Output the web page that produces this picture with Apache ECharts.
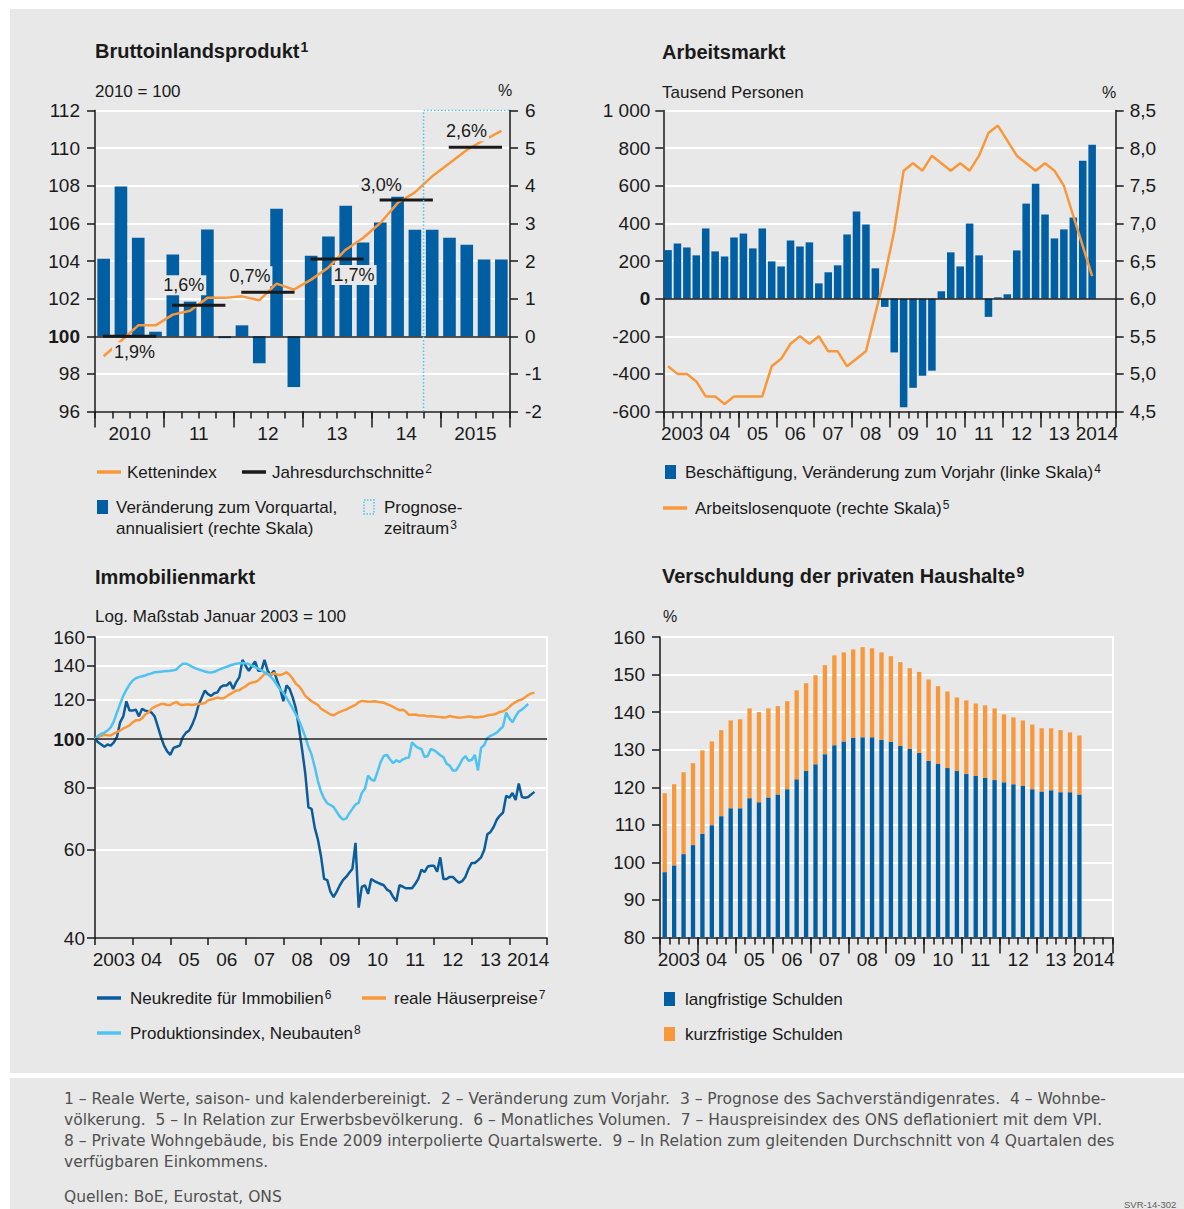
<!DOCTYPE html>
<html><head><meta charset="utf-8">
<script src="https://cdn.jsdelivr.net/npm/echarts@6/dist/echarts.min.js"></script>
<style>html,body{margin:0;padding:0;background:#fff}#c{width:1184px;height:1209px}</style>
</head><body><div id="c"></div>
<script>
// ---------------- DATA ----------------
const quarterNames = ['Q1', 'Q2', 'Q3', 'Q4'];

// Bruttoinlandsprodukt
const gdpYears = ['2010', '2011', '2012', '2013', '2014', '2015'];
const gdpYearLabels = ['2010', '11', '12', '13', '14', '2015'];
const gdpQuarters = gdpYears.flatMap(y => quarterNames.map(q => y + ' ' + q));
const gdpIndex = [98.94, 99.75, 100.58, 100.58, 101.15, 101.36, 102.04, 102.04, 102.12, 101.91, 102.8, 102.48,
  103.01, 103.66, 104.6, 105.22, 106.02, 107.08, 107.65, 108.5, 109.2, 109.9, 110.43, 110.92];
const gdpChange = [2.06, 3.98, 2.62, 0.12, 2.17, 0.92, 2.84, -0.05, 0.29, -0.72, 3.39, -1.35,
  2.14, 2.65, 3.47, 2.49, 3.02, 3.71, 2.83, 2.83, 2.62, 2.43, 2.04, 2.04];
const gdpAnnualAvg = [100, 101.65, 102.34, 104.11, 107.24, 110.04];
const gdpAnnualGrowth = ['1,9%', '1,6%', '0,7%', '1,7%', '3,0%', '2,6%'];
const gdpForecastStart = '2014 Q4';

// Arbeitsmarkt
const labourYears = ['2003', '2004', '2005', '2006', '2007', '2008', '2009', '2010', '2011', '2012', '2013', '2014'];
const labourYearLabels = ['2003', '04', '05', '06', '07', '08', '09', '10', '11', '12', '13', '2014'];
const labourQuarters = labourYears.flatMap(y => quarterNames.map(q => y + ' ' + q));
const employmentChange = [258, 293, 272, 230, 373, 251, 224, 325, 346, 267, 373, 198, 171, 309, 277, 299,
  81, 140, 177, 341, 463, 394, 161, -44, -286, -578, -474, -410, -383, 39, 246, 171,
  399, 230, -97, 7, 23, 256, 505, 611, 447, 320, 368, 431, 733, 818];
const unemploymentRate = [5.1, 5.0, 5.0, 4.9, 4.7, 4.7, 4.6, 4.7, 4.7, 4.7, 4.7, 5.1, 5.2, 5.4, 5.5, 5.4,
  5.5, 5.3, 5.3, 5.1, 5.2, 5.3, 5.8, 6.3, 6.9, 7.7, 7.8, 7.7, 7.9, 7.8, 7.7, 7.8,
  7.7, 7.9, 8.2, 8.3, 8.1, 7.9, 7.8, 7.7, 7.8, 7.7, 7.5, 7.1, 6.7, 6.3];

// Immobilienmarkt (monthly from January 2003)
const housingYearLabels = ['2003', '04', '05', '06', '07', '08', '09', '10', '11', '12', '13', '2014'];
const housingFirstYear = 2003;
const newMortgages = [100, 98.5, 97.5, 96.5, 97.5, 97, 98.5, 101, 108, 111,
  119, 114, 114, 114.5, 111, 115, 114, 113.5, 113, 111,
  106, 101, 97, 94.5, 93, 96, 96.5, 97, 101, 103,
  104, 107, 111, 117, 121, 125, 123, 122, 123.5, 124,
  127, 128, 128, 130, 126, 130, 133, 144, 140, 137,
  140, 143, 137, 137, 144, 137, 134, 137, 131, 126,
  119, 128, 126, 121, 115, 105, 95, 85.3, 73, 72.5,
  66.5, 63, 58.3, 52.5, 52.2, 49.5, 48.3, 49.5, 51, 52.2,
  53, 54, 55, 62, 46, 50.6, 51, 49, 52.5, 52,
  51.6, 51.3, 51, 50, 49.6, 48.3, 47.4, 51, 50.7, 50.3,
  50.3, 50.3, 51.3, 52.5, 54.8, 54.2, 55.6, 55.8, 55.8, 54.3,
  58, 52.5, 52.5, 53, 53, 52.2, 51.6, 52, 53, 55,
  56.5, 56.5, 57.2, 58, 60, 64.5, 65.2, 66.7, 69, 70.3,
  71.3, 77, 76.3, 78, 75.5, 81.5, 76.6, 76.3, 76.6, 77.5, 78.4];
const realHousePrices = [100, 101, 101.5, 102, 101.8, 101.7, 102.5, 103.3, 104, 105,
  105.7, 106.5, 108, 109, 109, 110, 112, 113, 115, 116,
  116.8, 117.5, 117.5, 117, 117, 118, 118.6, 117.2, 117, 117.3,
  117.2, 117, 117.3, 117.5, 117.7, 118, 119.5, 120, 120.4, 121,
  120.7, 120.7, 121.8, 123, 124, 125, 125.2, 126.5, 127.5, 129,
  129.7, 130, 131, 132.8, 135, 135, 134.5, 135.4, 134.7, 134.2,
  135, 136, 134.5, 132, 129, 127.5, 125, 122, 120.5, 119,
  118, 117, 115, 114, 113, 112, 111.5, 112.5, 113.3, 114,
  114.5, 115.5, 116.3, 117, 118.5, 119.2, 119, 118.7, 118.8, 119,
  118.8, 118.5, 118.2, 117.5, 116.8, 116, 115, 114.2, 114.5, 113.5,
  111.8, 111.8, 112, 111.6, 111.5, 111.4, 111, 111.2, 111, 110.8,
  110.7, 110.4, 110.6, 111.2, 110.8, 110.6, 110.3, 110.5, 110.7, 111,
  110.8, 110.4, 110.6, 110.8, 111, 111.5, 111.8, 112, 112.5, 113.3,
  113.7, 114.5, 116, 117.5, 118.5, 119.5, 120, 121.2, 122.5, 123.5, 123.7];
const constructionOutput = [100, 101.5, 102.5, 103, 104, 105.5, 108.5, 113, 117.5, 122,
  125.5, 128.5, 131, 132.3, 133, 133.5, 134, 134.8, 135.3, 136,
  136.2, 136.4, 136.6, 136.8, 137, 137.3, 137.8, 140, 141.5, 141.5,
  140.5, 139.5, 138.5, 137.8, 137.2, 136.5, 136, 135.8, 136.3, 137.2,
  138, 138.8, 139.5, 140.3, 141, 141.5, 141.8, 142, 141.7, 141.3,
  140.2, 139.3, 138.3, 137.2, 136, 135, 133.2, 131, 128.3, 125.5,
  124, 121, 118, 115, 112, 109, 105, 101, 96.5, 93,
  88, 82.5, 78.5, 76, 74.4, 73.8, 73.2, 71.5, 70, 69,
  69.3, 71, 72.5, 74, 74.5, 78, 79.5, 84.5, 83, 82.5,
  86, 90, 92.5, 93, 91, 89.5, 90.7, 90, 91, 91.6,
  91.8, 98.5, 97, 96, 95.5, 92, 92.5, 95.5, 95, 94,
  92.8, 92, 89.3, 88.5, 86.5, 86.5, 88.5, 91, 92.5, 90.5,
  90.8, 93, 86.5, 96, 97.3, 100.5, 101.5, 102.2, 103, 104.5,
  106, 113, 110, 108, 111, 113.5, 114.5, 116, 117.5];
const housingTicks = [40, 60, 80, 100, 120, 140, 160];

// Verschuldung der privaten Haushalte
const debtLongTerm = [97.4, 99.2, 102.2, 104.6, 107.6, 109.9, 112.3, 114.4, 114.4, 117.1, 116, 117.3,
  118.1, 119.5, 122.1, 124.3, 126.1, 128.8, 131.2, 132.2, 133.1, 133.3, 133.3, 132.6,
  132.1, 131, 130.2, 129.1, 127, 126.2, 125.1, 124.3, 123.5, 123, 122.5, 121.9,
  121.3, 120.8, 120.3, 119.5, 118.9, 119.2, 118.7, 118.7, 118.1];
const debtShortTerm = [21.0, 21.6, 21.8, 21.8, 22.2, 22.3, 22.9, 23.4, 23.7, 23.9, 24.0, 23.7,
  23.5, 23.4, 23.7, 23.4, 23.7, 23.7, 23.9, 23.7, 23.6, 24.0, 23.7, 23.3,
  22.8, 22.3, 21.5, 21.6, 21.7, 20.7, 20.4, 19.6, 19.6, 19.3, 19.3, 19.1,
  18.1, 17.8, 17.5, 17.2, 16.8, 16.5, 16.5, 15.9, 15.7];

// ---------------- STYLE ----------------
const FONT = '"Liberation Sans", Arial, sans-serif';
const FOOTFONT = '"DejaVu Sans", "Liberation Sans", sans-serif';
const INK = '#1a1a1a';
const BG = '#e8e8e8';
const BLUE = '#005ea2';
const ORANGE = '#f8983a';
const LIGHTBLUE = '#4ec3f2';
const DARKBLUE = '#0b5c9b';
const AX = { color: INK, width: 1.5 };
const LBL = 19;
// label offsets of the annual average labels relative to segment centre [dx, dy]
const avgLabelOffsets = [[5, 16], [-15, -20], [-18, -16], [17, 16], [-25, -15], [-9, -16]];

function boldAt(target, fmt) {
  return {
    formatter: v => (Math.abs(v - target) < 1e-6 ? '{b|' + fmt(v) + '}' : fmt(v)),
    rich: { b: { fontWeight: 'bold', fontSize: LBL, fontFamily: FONT, color: INK } }
  };
}
function quarterAxis(grid, data) {
  return { type: 'category', gridIndex: grid, data, position: 'bottom', boundaryGap: true,
    axisLine: { show: true, onZero: false, lineStyle: AX },
    axisTick: { show: true, interval: 0, length: 7, lineStyle: AX },
    axisLabel: { show: false }, splitLine: { show: false } };
}
function yearAxis(grid, data, tickLen, showLine) {
  return { type: 'category', gridIndex: grid, data, position: 'bottom', boundaryGap: true,
    axisLine: { show: !!showLine, onZero: false, lineStyle: AX },
    axisTick: { show: true, interval: 0, length: tickLen, lineStyle: AX },
    axisLabel: { show: true, interval: 0, fontSize: LBL, color: INK, fontFamily: FONT, margin: 12,
      hideOverlap: false },
    splitLine: { show: false } };
}
function valAxis(grid, pos, min, max, interval, margin, extra) {
  return Object.assign({ type: 'value', gridIndex: grid, position: pos, min, max, interval,
    axisLine: { show: true, onZero: false, lineStyle: AX },
    axisTick: { show: true, length: 8, lineStyle: AX },
    axisLabel: { show: true, fontSize: LBL, color: INK, fontFamily: FONT, margin,
      showMinLabel: true, showMaxLabel: true },
    splitLine: { show: false } }, extra || {});
}
const whiteSplit = { show: true, lineStyle: { color: '#ffffff', width: 2 } };
function whiteRightAxis(grid) {
  return { type: 'value', gridIndex: grid, position: 'right', min: 0, max: 1,
    axisLine: { show: true, onZero: false, lineStyle: { color: '#ffffff', width: 2 } },
    axisTick: { show: false }, axisLabel: { show: false }, splitLine: { show: false } };
}
const zeroLine = v => ({ silent: true, symbol: ['none', 'none'], label: { show: false },
  lineStyle: { color: INK, width: 1.5, type: 'solid' }, emphasis: { disabled: true }, data: [{ yAxis: v }] });

// ---------------- AXES ----------------
const grids = [
  { left: 95, top: 110.5, width: 415, height: 301 },
  { left: 663.3, top: 110.5, width: 452.4, height: 301 },
  { left: 95, top: 637, width: 452, height: 301 },
  { left: 660, top: 637, width: 452.4, height: 300.5 }
].map(g => Object.assign({ containLabel: false, outerBoundsMode: 'none' }, g));

const xAxes = [
  quarterAxis(0, gdpQuarters),                                  // 0
  yearAxis(0, gdpYearLabels, 16, false),                        // 1
  quarterAxis(1, labourQuarters),                               // 2
  yearAxis(1, labourYearLabels, 16, false),                     // 3
  { type: 'value', gridIndex: 2, min: housingFirstYear, max: housingFirstYear + 12, show: false }, // 4
  yearAxis(2, housingYearLabels, 7, true),                      // 5
  quarterAxis(3, labourQuarters),                               // 6
  yearAxis(3, labourYearLabels, 16, false)                      // 7
];

const yAxes = [
  valAxis(0, 'left', 96, 112, 2, 15, { splitLine: whiteSplit }),                     // 0
  valAxis(0, 'right', -2, 6, 1, 15),                                                  // 1
  valAxis(1, 'left', -600, 1000, 200, 13, { splitLine: whiteSplit }),                 // 2
  valAxis(1, 'right', 4.5, 8.5, 0.5, 14),                                             // 3
  { type: 'log', logBase: 10, gridIndex: 2, position: 'left', min: 40, max: 160,
    axisLine: { show: true, onZero: false, lineStyle: AX },
    axisTick: { show: true, length: 8, lineStyle: AX, customValues: housingTicks },
    axisLabel: { show: true, fontSize: LBL, color: INK, fontFamily: FONT, margin: 10, customValues: housingTicks },
    splitLine: whiteSplit },                                                          // 4
  whiteRightAxis(2),                                                                  // 5
  valAxis(3, 'left', 80, 160, 10, 15, { splitLine: whiteSplit }),                     // 6
  whiteRightAxis(3)                                                                   // 7
];
Object.assign(yAxes[0].axisLabel, boldAt(100, v => String(v)));
Object.assign(yAxes[2].axisLabel, boldAt(0, v => (v === 1000 ? '1 000' : String(v))));
Object.assign(yAxes[3].axisLabel, { formatter: v => v.toFixed(1).replace('.', ',') });
Object.assign(yAxes[4].axisLabel, boldAt(100, v => String(Math.round(v))));

// ---------------- SERIES ----------------
const monthX = i => housingFirstYear + i / 12;
const series = [
  // GDP
  { name: 'Veränderung zum Vorquartal', type: 'bar', xAxisIndex: 0, yAxisIndex: 1, data: gdpChange,
    barWidth: '73%', itemStyle: { color: BLUE }, z: 2, markLine: zeroLine(0) },
  { name: 'Kettenindex', type: 'line', xAxisIndex: 0, yAxisIndex: 0, data: gdpIndex, symbol: 'none',
    lineStyle: { color: ORANGE, width: 2.5 }, z: 4 },
  { name: 'Jahresdurchschnitte', type: 'custom', xAxisIndex: 1, yAxisIndex: 0, z: 6,
    data: gdpAnnualAvg.map((v, i) => [i, v]),
    renderItem: (params, api) => {
      const c = api.coord([api.value(0), api.value(1)]);
      const w = api.size([1, 0])[0];
      const off = avgLabelOffsets[params.dataIndex];
      return { type: 'group', children: [
        { type: 'line', shape: { x1: c[0] - w * 0.385, y1: c[1], x2: c[0] + w * 0.385, y2: c[1] },
          style: { stroke: INK, lineWidth: 3 } },
        { type: 'text', x: c[0] + off[0], y: c[1] + off[1],
          style: { text: gdpAnnualGrowth[params.dataIndex], fill: INK, font: '18px ' + FONT,
            align: 'center', verticalAlign: 'middle', backgroundColor: BG, padding: [1, 2] } }
      ] };
    } },
  { name: 'Prognosezeitraum', type: 'custom', xAxisIndex: 0, yAxisIndex: 0, z: 7,
    data: [[gdpQuarters.indexOf(gdpForecastStart), 100]],
    renderItem: (params, api) => {
      const c = api.coord([api.value(0), api.value(1)]);
      const w = api.size([1, 0])[0];
      const cs = params.coordSys;
      const x0 = c[0] - w / 2;
      return { type: 'polyline', shape: { points: [[x0, cs.y + cs.height], [x0, cs.y], [cs.x + cs.width, cs.y]] },
        style: { stroke: LIGHTBLUE, lineWidth: 1.5, lineDash: [1.5, 2], fill: null } };
    } },
  // Arbeitsmarkt
  { name: 'Beschäftigung', type: 'bar', xAxisIndex: 2, yAxisIndex: 2, data: employmentChange,
    barWidth: '80%', itemStyle: { color: BLUE }, z: 2, markLine: zeroLine(0) },
  { name: 'Arbeitslosenquote', type: 'line', xAxisIndex: 2, yAxisIndex: 3, data: unemploymentRate,
    symbol: 'none', lineStyle: { color: ORANGE, width: 2.5 }, z: 4 },
  // Immobilienmarkt
  { name: 'Neukredite für Immobilien', type: 'line', xAxisIndex: 4, yAxisIndex: 4,
    data: newMortgages.map((v, i) => [monthX(i), v]), symbol: 'none',
    lineStyle: { color: DARKBLUE, width: 2.5 }, z: 4, markLine: zeroLine(100) },
  { name: 'reale Häuserpreise', type: 'line', xAxisIndex: 4, yAxisIndex: 4,
    data: realHousePrices.map((v, i) => [monthX(i), v]), symbol: 'none',
    lineStyle: { color: ORANGE, width: 2.5 }, z: 4 },
  { name: 'Produktionsindex, Neubauten', type: 'line', xAxisIndex: 4, yAxisIndex: 4,
    data: constructionOutput.map((v, i) => [monthX(i), v]), symbol: 'none',
    lineStyle: { color: LIGHTBLUE, width: 2.5 }, z: 4 },
  // Verschuldung
  { name: 'langfristige Schulden', type: 'bar', xAxisIndex: 6, yAxisIndex: 6, stack: 'debt', clip: true,
    data: debtLongTerm, barWidth: '46%', itemStyle: { color: BLUE } },
  { name: 'kurzfristige Schulden', type: 'bar', xAxisIndex: 6, yAxisIndex: 6, stack: 'debt', clip: true,
    data: debtShortTerm, barWidth: '46%', itemStyle: { color: ORANGE } }
];

// ---------------- TEXT / LEGENDS ----------------
function txt(x, y, text, size, extra) {
  return { type: 'text', x, y, silent: true,
    style: Object.assign({ text, fill: INK, font: size + 'px ' + FONT, verticalAlign: 'middle', align: 'left' }, extra || {}) };
}
function rich(x, y, main, sup, size, bold) {
  const ss = Math.round(size * 0.7);
  return { type: 'text', x, y, silent: true, style: {
    text: '{m|' + main + '}' + (sup ? '{s|' + sup + '}' : ''), verticalAlign: 'middle', align: 'left',
    rich: {
      m: { fontSize: size, fontFamily: FONT, fontWeight: bold ? 'bold' : 'normal', fill: INK, lineHeight: size + 1, verticalAlign: 'bottom' },
      s: { fontSize: ss, fontFamily: FONT, fontWeight: bold ? 'bold' : 'normal', fill: INK, lineHeight: ss, verticalAlign: 'top', padding: [0, 0, 0, 1] }
    } } };
}
const legLine = (x, y, color, w) => ({ type: 'line', silent: true, shape: { x1: x, y1: y, x2: x + 24, y2: y },
  style: { stroke: color, lineWidth: w || 3.5 } });
const legBox = (x, y, color) => ({ type: 'rect', silent: true, shape: { x, y: y - 7, width: 11, height: 14 }, style: { fill: color } });

const FOOT = 15.5;
const foot = (y, s) => txt(64, y, s, FOOT, { fill: '#505050', font: FOOT + 'px ' + FOOTFONT });
const graphics = [
  // white margins
  { type: 'rect', silent: true, shape: { x: 0, y: 0, width: 1184, height: 9 }, style: { fill: '#fff' } },
  { type: 'rect', silent: true, shape: { x: 0, y: 0, width: 10, height: 1209 }, style: { fill: '#fff' } },
  { type: 'rect', silent: true, shape: { x: 0, y: 1073, width: 1184, height: 5 }, style: { fill: '#fff' } },
  // titles
  rich(95, 50, 'Bruttoinlandsprodukt', '1', 20, true),
  rich(662, 51, 'Arbeitsmarkt', '', 20, true),
  rich(95, 576, 'Immobilienmarkt', '', 20, true),
  rich(662, 575, 'Verschuldung der privaten Haushalte', '9', 20, true),
  // subtitles / units
  txt(95, 91, '2010 = 100', 17),
  txt(498, 90, '%', 16),
  txt(662, 92, 'Tausend Personen', 17),
  txt(1102, 92, '%', 16),
  txt(95, 616, 'Log. Maßstab Januar 2003 = 100', 17),
  txt(663, 616, '%', 16),
  // GDP legend
  legLine(97, 472, ORANGE), rich(127, 472, 'Kettenindex', '', 17),
  legLine(242, 472, INK), rich(272, 472, 'Jahresdurchschnitte', '2', 17),
  legBox(97, 507, BLUE), rich(116, 507, 'Veränderung zum Vorquartal,', '', 17),
  rich(116, 528, 'annualisiert (rechte Skala)', '', 17),
  { type: 'rect', silent: true, shape: { x: 364, y: 500, width: 10, height: 14 },
    style: { fill: null, stroke: LIGHTBLUE, lineWidth: 1.5, lineDash: [1.5, 1.5] } },
  rich(384, 507, 'Prognose-', '', 17), rich(384, 528, 'zeitraum', '3', 17),
  // Arbeitsmarkt legend
  legBox(665, 472, BLUE), rich(685, 472, 'Beschäftigung, Veränderung zum Vorjahr (linke Skala)', '4', 17),
  legLine(663, 508, ORANGE), rich(695, 508, 'Arbeitslosenquote (rechte Skala)', '5', 17),
  // Immobilien legend
  legLine(97, 998, DARKBLUE), rich(130, 998, 'Neukredite für Immobilien', '6', 17),
  legLine(362, 998, ORANGE), rich(394, 998, 'reale Häuserpreise', '7', 17),
  legLine(97, 1033, LIGHTBLUE), rich(130, 1033, 'Produktionsindex, Neubauten', '8', 17),
  // Verschuldung legend
  legBox(664, 999, BLUE), rich(685, 999, 'langfristige Schulden', '', 17),
  legBox(664, 1034, ORANGE), rich(685, 1034, 'kurzfristige Schulden', '', 17),
  // footer
  foot(1099, '1 – Reale Werte, saison- und kalenderbereinigt.  2 – Veränderung zum Vorjahr.  3 – Prognose des Sachverständigenrates.  4 – Wohnbe-'),
  foot(1120, 'völkerung.  5 – In Relation zur Erwerbsbevölkerung.  6 – Monatliches Volumen.  7 – Hauspreisindex des ONS deflationiert mit dem VPI.'),
  foot(1141, '8 – Private Wohngebäude, bis Ende 2009 interpolierte Quartalswerte.  9 – In Relation zum gleitenden Durchschnitt von 4 Quartalen des'),
  foot(1162, 'verfügbaren Einkommens.'),
  foot(1197, 'Quellen: BoE, Eurostat, ONS'),
  txt(1124, 1204, 'SVR-14-302', 9.5, { fill: '#606060' })
];

const chart = echarts.init(document.getElementById('c'), null, { renderer: 'svg', width: 1184, height: 1209 });
chart.setOption({
  animation: false,
  backgroundColor: BG,
  textStyle: { fontFamily: FONT, color: INK },
  grid: grids,
  xAxis: xAxes,
  yAxis: yAxes,
  series: series,
  graphic: graphics
});
</script>
</body></html>
